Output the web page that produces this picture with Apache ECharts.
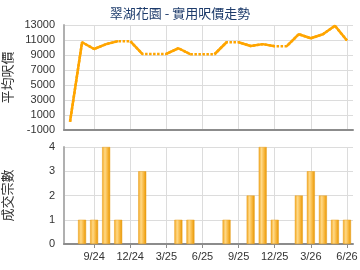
<!DOCTYPE html>
<html><head><meta charset="utf-8">
<script src="https://cdn.jsdelivr.net/npm/echarts@6/dist/echarts.min.js"></script>
<style>html,body{margin:0;padding:0;background:#fff}#c{width:360px;height:270px}</style>
</head><body><div id="c"></div>
<script>
const titleText = '翠湖花園 - 實用呎價走勢';
const priceAxisName = '平均呎價';
const dealsAxisName = '成交宗數';
const months = ['7/24','8/24','9/24','10/24','11/24','12/24','1/25','2/25','3/25','4/25','5/25','6/25','7/25','8/25','9/25','10/25','11/25','12/25','1/26','2/26','3/26','4/26','5/26','6/26'];
const avgPrice = [100,10700,9800,10450,10850,10850,9150,9150,9150,9900,9100,9100,9100,10700,10700,10200,10450,10180,10180,11770,11230,11770,12900,10930];
const deals = [0,1,1,4,1,0,3,0,0,1,1,0,0,1,0,2,4,1,0,2,3,2,1,1];
const tickMonths = ['9/24','12/24','3/25','6/25','9/25','12/25','3/26','6/26'];

const tickIdx = tickMonths.map(m => months.indexOf(m));
const dottedData = avgPrice.map((v,i) => [i, v]);
const solidData = [];
avgPrice.forEach((v,i) => {
  if (i > 0 && deals[i] === 0) solidData.push([i - 0.5, '-']);
  solidData.push([i, v]);
});
const barData = deals.map((v,i) => [i, v > 0 ? v : '-']);

const font = 'Liberation Sans, Arial, sans-serif';
const gridColor = '#dcdcdc';
const chart = echarts.init(document.getElementById('c'), null, {renderer:'canvas'});
const xCommon = {
  type:'value', min:-0.5, max:23.5,
  splitLine:{show:false},
  axisLine:{show:true, onZero:false, lineStyle:{color:'#8c8c8c', width:2}},
  axisTick:{show:false, customValues: tickIdx},
  axisLabel:{show:false, customValues: tickIdx}
};
const vGrid = (xi, yi) => ({
  type:'line', xAxisIndex:xi, yAxisIndex:yi, data:[], z:0, silent:true,
  markLine:{silent:true, z:0, symbol:'none', label:{show:false}, animation:false,
    lineStyle:{color:gridColor, width:1, type:'solid'},
    data: tickIdx.map(t => ({xAxis:t}))}
});
const yCommon = {
  nameLocation:'middle', nameGap:50, nameRotate:90,
  nameTextStyle:{fontFamily:'Noto Sans CJK TC', fontSize:13, color:'#333'},
  axisLine:{show:true, onZero:false, lineStyle:{color:'#b0b0b0', width:2}}, axisTick:{show:false},
  axisLabel:{fontFamily:font, fontSize:11, color:'#333', margin:9, formatter: v => String(v)},
  splitLine:{lineStyle:{color:gridColor}}
};
chart.setOption({
  animation:false,
  title:{text:titleText, left:'center', top:2, textStyle:{fontFamily:'Noto Sans CJK TC', fontSize:13, fontWeight:'normal', color:'#1d3b6b'}},
  grid:[
    {left:64, right:7, top:25, height:105, containLabel:false, outerBoundsMode:'none'},
    {left:64, right:7, top:147, height:97, containLabel:false, outerBoundsMode:'none'}
  ],
  xAxis:[
    Object.assign({}, xCommon, {gridIndex:0}),
    Object.assign({}, xCommon, {gridIndex:1,
      axisTick:{show:true, customValues: tickIdx, length:4, lineStyle:{color:'#8c8c8c'}},
      axisLabel:{show:true, customValues: tickIdx, formatter: v => months[Math.round(v)], fontFamily:font, fontSize:11, color:'#333', margin:7}})
  ],
  yAxis:[
    Object.assign({}, yCommon, {gridIndex:0, type:'value', min:-1000, max:13000, interval:2000, name:priceAxisName}),
    Object.assign({}, yCommon, {gridIndex:1, type:'value', min:0, max:4, interval:1, name:dealsAxisName})
  ],
  series:[
    vGrid(0,0), vGrid(1,1),
    {type:'line', xAxisIndex:0, yAxisIndex:0, data:dottedData, showSymbol:false, symbol:'none', z:3,
     lineStyle:{color:'#ffa500', width:2.5, type:[2.5,1.5]}},
    {type:'line', xAxisIndex:0, yAxisIndex:0, data:solidData, showSymbol:false, symbol:'none', connectNulls:false, z:4,
     lineStyle:{color:'#ffa500', width:2.5}},
    {type:'bar', xAxisIndex:1, yAxisIndex:1, data:barData, barWidth:8, z:3,
     itemStyle:{borderColor:'#e8a020', borderWidth:0.5,
       color:new echarts.graphic.LinearGradient(0,0,1,0,[
         {offset:0, color:'#f3a61c'},{offset:0.35, color:'#ffd987'},{offset:0.7, color:'#f7b53a'},{offset:1, color:'#e69500'}])}}
  ]
});
</script></body></html>
